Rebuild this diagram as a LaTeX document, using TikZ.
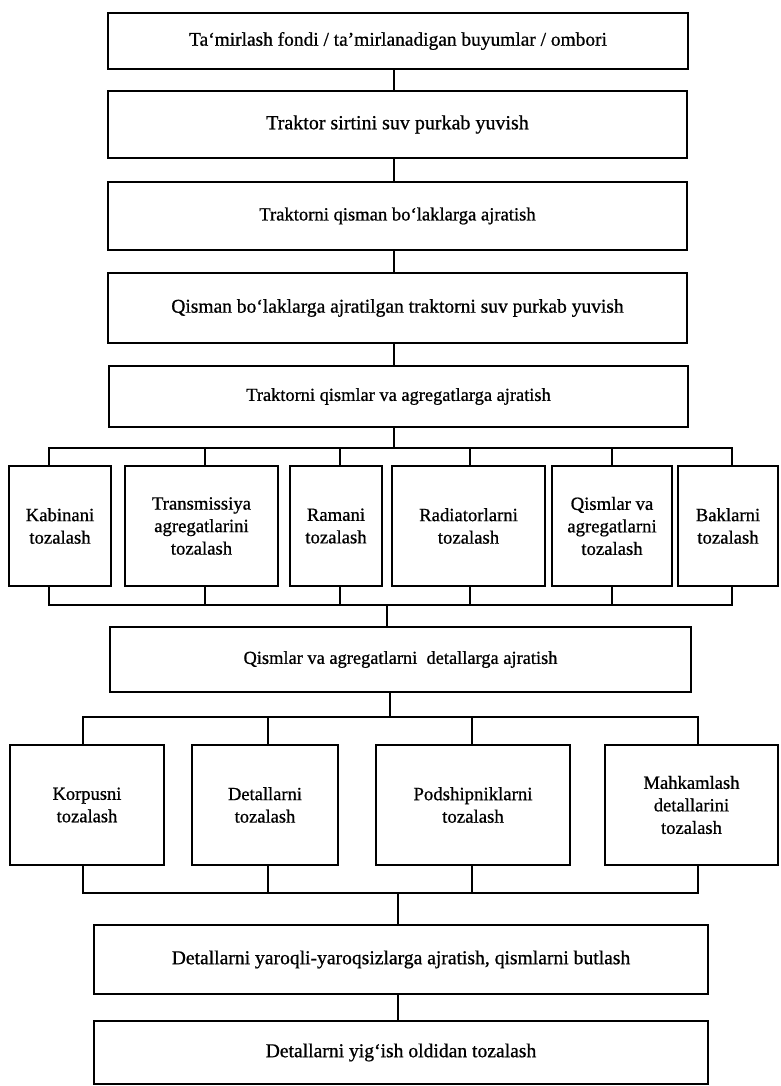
\documentclass[tikz,border=0pt]{standalone}
\usepackage{fontspec}
\setmainfont{Liberation Serif}[FakeBold=0.8]
\newcommand\txtsize[1]{\fontsize{#1}{22.5}\selectfont}
\begin{document}
\begin{tikzpicture}[x=1pt,y=-1pt,
  box/.style={draw, line width=1.8pt, align=center, inner sep=0pt},
  wire/.style={line width=1.8pt, line join=miter}]
\useasboundingbox (0,0) rectangle (781,1086);

% main column
\node[box, font=\txtsize{19.4}, minimum width=580pt, minimum height=56pt] (b1) at (398,41)
  {Ta‘mirlash fondi / ta’mirlanadigan buyumlar / ombori};
\node[box, font=\txtsize{20}, minimum width=579pt, minimum height=67pt] (b2) at (397.5,124.5)
  {Traktor sirtini suv purkab yuvish};
\node[box, font=\txtsize{18.6}, minimum width=579pt, minimum height=68pt] (b3) at (397.5,216)
  {Traktorni qisman bo‘laklarga ajratish};
\node[box, font=\txtsize{19.5}, minimum width=579pt, minimum height=70pt] (b4) at (397.5,308)
  {Qisman bo‘laklarga ajratilgan traktorni suv purkab yuvish};
\node[box, font=\txtsize{18.4}, minimum width=579pt, minimum height=61pt] (b5) at (398.5,396.5)
  {Traktorni qismlar va agregatlarga ajratish};

% first row of cleaning steps
\node[box, font=\txtsize{18.7}, minimum width=102pt, minimum height=120pt] (ka) at (60,526)
  {Kabinani\\tozalash};
\node[box, font=\txtsize{18.7}, minimum width=153pt, minimum height=120pt] (tr) at (201.5,526)
  {Transmissiya\\agregatlarini\\tozalash};
\node[box, font=\txtsize{18.7}, minimum width=92pt, minimum height=120pt] (ra) at (336,526)
  {Ramani\\tozalash};
\node[box, font=\txtsize{18.7}, minimum width=153pt, minimum height=120pt] (rd) at (468.5,526)
  {Radiatorlarni\\tozalash};
\node[box, font=\txtsize{18.7}, minimum width=120pt, minimum height=120pt] (qa) at (612,526)
  {Qismlar va\\agregatlarni\\tozalash};
\node[box, font=\txtsize{18.7}, minimum width=100pt, minimum height=120pt] (bk) at (728,526)
  {Baklarni\\tozalash};

\node[box, font=\txtsize{18.4}, minimum width=581pt, minimum height=65pt] (b6) at (400.5,659.5)
  {Qismlar va agregatlarni\ \ detallarga ajratish};

% second row of cleaning steps
\node[box, font=\txtsize{18.5}, minimum width=154pt, minimum height=120pt] (ko) at (87,805)
  {Korpusni\\tozalash};
\node[box, font=\txtsize{18.5}, minimum width=146pt, minimum height=120pt] (de) at (265,805)
  {Detallarni\\tozalash};
\node[box, font=\txtsize{18.8}, minimum width=194pt, minimum height=120pt] (po) at (473,805)
  {Podshipniklarni\\tozalash};
\node[box, font=\txtsize{18.6}, minimum width=173pt, minimum height=120pt] (ma) at (691.5,805)
  {Mahkamlash\\detallarini\\tozalash};

\node[box, font=\txtsize{19.6}, minimum width=614pt, minimum height=69pt] (b7) at (401,959.5)
  {Detallarni yaroqli-yaroqsizlarga ajratish, qismlarni butlash};
\node[box, font=\txtsize{19.6}, minimum width=614pt, minimum height=63pt] (b8) at (401,1052.5)
  {Detallarni yig‘ish oldidan tozalash};

% trunk positions and bus levels
\coordinate (t1) at (394,0);
\coordinate (t5) at (394,0);
\coordinate (t6) at (387,0);
\coordinate (t7) at (390,0);
\coordinate (t8) at (398,0);
\coordinate (u1) at (0,448);
\coordinate (l1) at (0,605);
\coordinate (u2) at (0,717);
\coordinate (l2) at (0,893);
% stub positions, first row
\coordinate (c1) at (49,0);
\coordinate (c2) at (205,0);
\coordinate (c3) at (340,0);
\coordinate (c4) at (470,0);
\coordinate (c5) at (612,0);
\coordinate (c6) at (732,0);
% stub positions, second row
\coordinate (d1) at (83,0);
\coordinate (d2) at (268,0);
\coordinate (d3) at (472,0);
\coordinate (d4) at (698,0);

% straight links of the main column
\draw[wire] (b1.south -| t1) -- (b2.north -| t1);
\draw[wire] (b2.south -| t1) -- (b3.north -| t1);
\draw[wire] (b3.south -| t1) -- (b4.north -| t1);
\draw[wire] (b4.south -| t1) -- (b5.north -| t1);

% branching to the first row
\draw[wire] (b5.south -| t5) -- (t5 |- u1);
\draw[wire] (ka.north -| c1) -- (c1 |- u1) -- (c6 |- u1) -- (bk.north -| c6);
\draw[wire] (c2 |- u1) -- (tr.north -| c2);
\draw[wire] (c3 |- u1) -- (ra.north -| c3);
\draw[wire] (c4 |- u1) -- (rd.north -| c4);
\draw[wire] (c5 |- u1) -- (qa.north -| c5);

% merging the first row
\draw[wire] (ka.south -| c1) -- (c1 |- l1) -- (c6 |- l1) -- (bk.south -| c6);
\draw[wire] (tr.south -| c2) -- (c2 |- l1);
\draw[wire] (ra.south -| c3) -- (c3 |- l1);
\draw[wire] (rd.south -| c4) -- (c4 |- l1);
\draw[wire] (qa.south -| c5) -- (c5 |- l1);
\draw[wire] (t6 |- l1) -- (b6.north -| t6);

% branching to the second row
\draw[wire] (b6.south -| t7) -- (t7 |- u2);
\draw[wire] (ko.north -| d1) -- (d1 |- u2) -- (d4 |- u2) -- (ma.north -| d4);
\draw[wire] (d2 |- u2) -- (de.north -| d2);
\draw[wire] (d3 |- u2) -- (po.north -| d3);

% merging the second row
\draw[wire] (ko.south -| d1) -- (d1 |- l2) -- (d4 |- l2) -- (ma.south -| d4);
\draw[wire] (de.south -| d2) -- (d2 |- l2);
\draw[wire] (po.south -| d3) -- (d3 |- l2);
\draw[wire] (t8 |- l2) -- (b7.north -| t8);
\draw[wire] (b7.south -| t8) -- (b8.north -| t8);
\end{tikzpicture}
\end{document}
